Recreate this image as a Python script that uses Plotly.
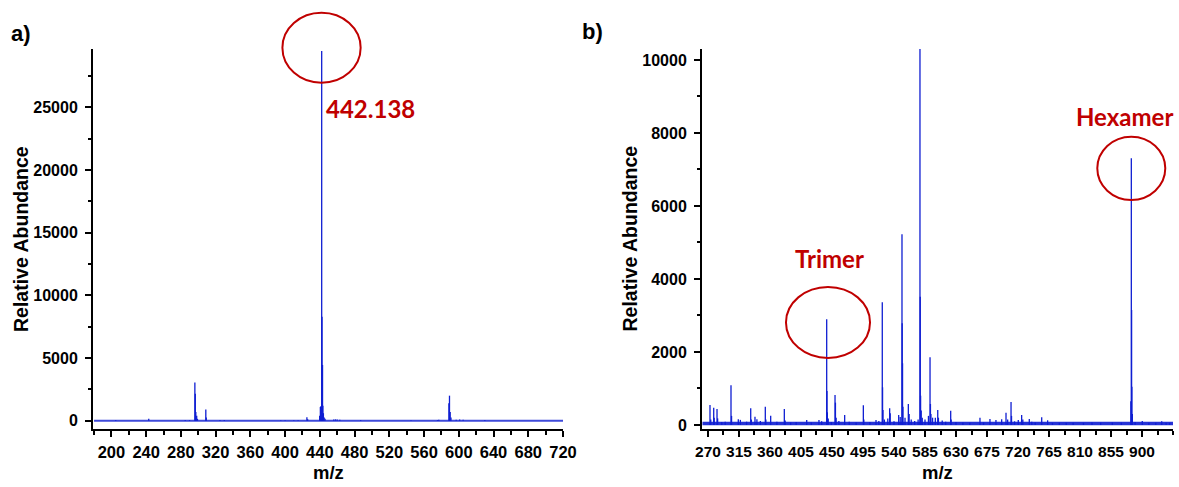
import plotly.graph_objects as go

# ---------------- data ----------------
# a) single-ion spectrum
mz_a = [205.0, 243.0, 285.0, 290.0, 296.1, 296.6, 297.2, 298.2, 299.1, 308.7, 309.2,
        325.0, 330.0, 395.0, 400.0, 410.0, 415.0, 425.1, 426.0,
        439.8, 440.6, 441.2, 442.138, 442.5, 443.1, 443.5, 444.1, 445.0, 446.0,
        456.0, 458.0, 460.0, 463.0, 487.0, 545.0, 575.5, 577.0,
        588.6, 589.3, 590.1, 591.0, 597.0, 601.0, 605.0, 630.0]
int_a = [50, 150, 50, 60, 3050, 2150, 700, 400, 150, 900, 250,
         60, 50, 40, 40, 40, 40, 270, 120,
         400, 1100, 1150, 29500, 8300, 4450, 1200, 600, 250, 150,
         100, 110, 90, 70, 60, 30, 60, 70,
         1400, 2000, 700, 250, 80, 90, 80, 50]

# b) oligomer spectrum
mz_b = [272.9, 274.0, 278.3, 279.0, 283.1, 284.0, 290.0, 295.0, 303.4, 304.2,
        314.0, 317.0, 326.0, 332.0, 333.0, 338.2, 341.0, 346.0, 353.2, 354.0,
        361.0, 370.0, 380.8, 382.0, 390.0, 398.0, 413.3, 420.0, 431.1, 435.0,
        442.3, 442.7, 443.3, 444.5, 449.0, 454.4, 455.0, 456.0, 460.0, 468.4,
        475.0, 485.0, 495.5, 496.2, 505.0, 513.9, 518.0, 523.0, 523.4, 524.0,
        526.0, 531.0, 533.7, 534.5, 540.0, 546.8, 549.0, 551.6, 551.9, 552.4,
        553.0, 556.0, 560.8, 562.0, 565.0, 570.0, 575.0, 577.7, 578.1, 578.6,
        579.5, 581.0, 585.0, 590.0, 592.3, 592.9, 593.6, 596.0, 600.0, 603.5,
        604.5, 610.0, 615.0, 622.3, 623.0, 630.0, 640.0, 650.0, 664.8, 670.0,
        679.3, 688.0, 696.3, 702.6, 705.0, 709.9, 710.6, 715.0, 720.4, 725.3,
        727.0, 736.4, 740.0, 745.0, 754.4, 763.0, 770.0, 780.0, 790.0, 800.0,
        815.0, 827.4, 840.0, 856.9, 870.0, 883.8, 884.5, 884.9, 885.3, 886.0,
        890.0, 900.4, 910.0, 920.0, 928.6, 935.0, 940.0]
int_b = [548, 150, 475, 200, 438, 180, 80, 90, 1087, 250,
         155, 140, 90, 457, 150, 228, 160, 110, 502, 150,
         256, 90, 438, 120, 70, 80, 137, 70, 137, 100,
         2895, 931, 347, 180, 80, 822, 612, 200, 110, 274,
         90, 70, 539, 150, 80, 137, 110, 3360, 1032, 411,
         150, 180, 457, 320, 100, 274, 220, 5225, 2786, 1690,
         500, 200, 575, 300, 150, 110, 150, 10600, 3515, 803,
         400, 200, 150, 250, 1855, 575, 300, 200, 200, 411,
         200, 120, 90, 393, 150, 80, 70, 60, 200, 70,
         164, 137, 155, 338, 150, 630, 250, 100, 137, 274,
         150, 164, 90, 70, 210, 128, 60, 60, 60, 60,
         60, 70, 60, 70, 60, 650, 7307, 3150, 1050, 300,
         80, 110, 60, 60, 100, 60, 60]

scan_a = [180, 720]
scan_b = [262, 945]

xticks_a = [200, 240, 280, 320, 360, 400, 440, 480, 520, 560, 600, 640, 680, 720]
yticks_a = [0, 5000, 10000, 15000, 20000, 25000]
xticks_b = [270, 315, 360, 405, 450, 495, 540, 585, 630, 675, 720, 765, 810, 855, 900]
yticks_b = [0, 2000, 4000, 6000, 8000, 10000]

xrange_a = [178.8, 720.0]
yrange_a = [-660, 29660]
xrange_b = [261.3, 945.0]
yrange_b = [-110, 10300]

W, H = 1179, 487
BLUE = "#0f1ed2"
RED = "#c00000"
TICKFONT = dict(family="Liberation Sans, Arial", size=16, color="black", weight="bold")


def sticks(mz, inten):
    xs, ys = [], []
    for m, h in zip(mz, inten):
        xs += [m, m, None]
        ys += [0, h, None]
    return xs, ys


def frac(v, rng):
    return (v - rng[0]) / (rng[1] - rng[0])


fig = go.Figure()

# baselines (noise floor) over the scan range
fig.add_trace(go.Scatter(x=scan_a, y=[0, 0], mode="lines", xaxis="x", yaxis="y",
                         line=dict(color=BLUE, width=1.8), opacity=0.8, hoverinfo="skip"))
fig.add_trace(go.Scatter(x=scan_b, y=[40, 40], mode="lines", xaxis="x2", yaxis="y2",
                         line=dict(color=BLUE, width=3.5), opacity=0.9, hoverinfo="skip"))

xa, ya = sticks(mz_a, int_a)
fig.add_trace(go.Scatter(x=xa, y=ya, mode="lines", xaxis="x", yaxis="y",
                         line=dict(color=BLUE, width=1.3)))
xb, yb = sticks(mz_b, int_b)
fig.add_trace(go.Scatter(x=xb, y=yb, mode="lines", xaxis="x2", yaxis="y2",
                         line=dict(color=BLUE, width=1.3)))

dom_x_a = [93 / W, 563 / W]
dom_x_b = [702 / W, 1173 / W]
dom_y = [1 - 429 / H, 1 - 49 / H]


def xaxis(dom, rng, ticks, minor_dtick, anchor, font_size):
    f = dict(TICKFONT)
    f["size"] = font_size
    return dict(domain=dom, range=rng, anchor=anchor, tickmode="array", tickvals=ticks,
                tickformat="d", automargin=False,
                ticks="outside", ticklen=6, tickwidth=1.5, tickcolor="black",
                showline=True, linecolor="black", linewidth=2, showgrid=False,
                zeroline=False, tickfont=f, ticklabelstandoff=1,
                minor=dict(ticks="outside", ticklen=3.5, tickwidth=1.5, tickcolor="black",
                           tick0=ticks[0], dtick=minor_dtick, showgrid=False))


def yaxis(rng, ticks, minor_dtick, anchor):
    return dict(domain=dom_y, range=rng, anchor=anchor, tickmode="array", tickvals=ticks,
                tickformat="d", automargin=False,
                ticks="outside", ticklen=6, tickwidth=1.5, tickcolor="black",
                showline=True, linecolor="black", linewidth=2, showgrid=False,
                zeroline=False, tickfont=TICKFONT, ticklabelstandoff=4,
                minor=dict(ticks="outside", ticklen=3.5, tickwidth=1.5, tickcolor="black",
                           tick0=0, dtick=minor_dtick, showgrid=False))


fig.update_layout(
    template="none",
    width=W, height=H, margin=dict(l=0, r=0, t=0, b=0, pad=0),
    paper_bgcolor="white", plot_bgcolor="white", showlegend=False,
    xaxis=xaxis(dom_x_a, xrange_a, xticks_a, 20, "y", 16.5),
    yaxis=yaxis(yrange_a, yticks_a, 2500, "x"),
    xaxis2=xaxis(dom_x_b, xrange_b, xticks_b, 22.5, "y2", 15.5),
    yaxis2=yaxis(yrange_b, yticks_b, 1000, "x2"),
)

# red rings around the highlighted ions (domain refs keep them unclipped)
rings = [
    ("x domain", "y domain", xrange_a, yrange_a, 396.9, 487.0, 26970, 32550),
    ("x2 domain", "y2 domain", xrange_b, yrange_b, 383.2, 505.2, 1836, 3781),
    ("x2 domain", "y2 domain", xrange_b, yrange_b, 835.1, 933.8, 6164, 7899),
]
for xr, yr, rx, ry, x0, x1, y0, y1 in rings:
    fig.add_shape(type="circle", xref=xr, yref=yr,
                  x0=frac(x0, rx), x1=frac(x1, rx), y0=frac(y0, ry), y1=frac(y1, ry),
                  line=dict(color=RED, width=2), layer="above")

LABEL = dict(family="Lato, Open Sans, sans-serif", size=24, color=RED, weight="bold")
fig.add_annotation(text="442.138", xref="x domain", yref="y domain",
                   x=frac(444.5, xrange_a), y=frac(24950, yrange_a),
                   xanchor="left", yanchor="middle", showarrow=False, font=LABEL)
fig.add_annotation(text="Trimer", xref="x2 domain", yref="y2 domain",
                   x=frac(446.4, xrange_b), y=frac(4548, yrange_b),
                   xanchor="center", yanchor="middle", showarrow=False, font=LABEL)
fig.add_annotation(text="Hexamer", xref="x2 domain", yref="y2 domain",
                   x=frac(875.3, xrange_b), y=frac(8452, yrange_b),
                   xanchor="center", yanchor="middle", showarrow=False, font=LABEL)

# panel letters
PANEL = dict(family="Liberation Sans, Arial", size=22, color="black", weight="bold")
fig.add_annotation(text="a)", xref="paper", yref="paper", x=21 / W, y=1 - 33 / H,
                   xanchor="center", yanchor="middle", showarrow=False, font=PANEL)
fig.add_annotation(text="b)", xref="paper", yref="paper", x=592 / W, y=1 - 31 / H,
                   xanchor="center", yanchor="middle", showarrow=False, font=PANEL)

# axis titles
TITLE = dict(family="Liberation Sans, Arial", size=19.5, color="black", weight="bold")
for xc in (21, 629.5):
    fig.add_annotation(text="Relative Abundance", xref="paper", yref="paper",
                       x=xc / W, y=1 - 239 / H, textangle=-90, xanchor="center",
                       yanchor="middle", showarrow=False, font=TITLE)
M_Z = dict(TITLE)
M_Z["size"] = 18.5
for xc in (328, 937.5):
    fig.add_annotation(text="m/z", xref="paper", yref="paper", x=xc / W, y=2 / H,
                       xanchor="center", yanchor="bottom", showarrow=False, font=M_Z)

fig.write_html("out.html")
